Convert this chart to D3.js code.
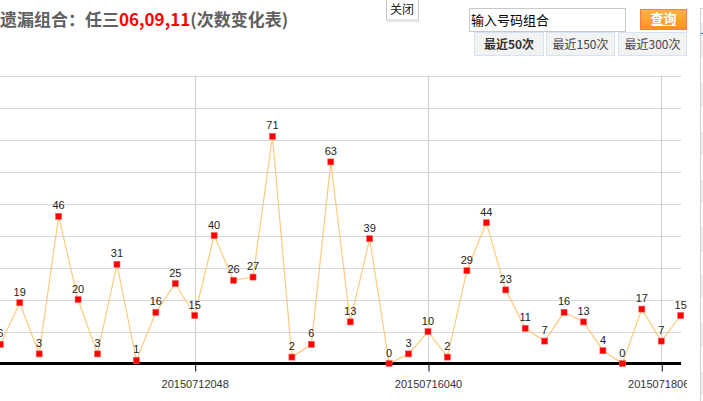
<!DOCTYPE html>
<html>
<head>
<meta charset="utf-8">
<script src="https://cdn.jsdelivr.net/npm/d3@7"></script>
<style>
  body { margin: 0; background: #fff; }
  svg { display: block; font-family: "Liberation Sans", Arial, sans-serif; }
</style>
</head>
<body>
<div id="chart"></div>
<script>
// visible part of the last-50 series (chart is scrolled, left part cut off)
const counts = [6, 19, 3, 46, 20, 3, 31, 1, 16, 25, 15, 40, 26, 27, 71, 2, 6, 63, 13, 39,
  0, 3, 10, 2, 29, 44, 23, 11, 7, 16, 13, 4, 0, 17, 7, 15];
const tickIndex = [10, 22, 34];
const tickLabels = ['20150712048', '20150716040', '20150718066'];
const yTicks = [10, 20, 30, 40, 50, 60, 70, 80, 90];
const tabs = ['最近50次', '最近150次', '最近300次'];

const width = 703, height = 401;
const svg = d3.select('#chart').append('svg')
  .attr('width', width)
  .attr('height', height);

const plotRight = 681;
const x = d3.scaleLinear().domain([0, counts.length - 1]).range([0.3, 680.7]);
const y = d3.scaleLinear().domain([0, 90]).range([363.5, 75.5]);

svg.append('defs').append('clipPath').attr('id', 'plotClip')
  .append('rect').attr('x', -10).attr('y', 0).attr('width', 697).attr('height', height);

const plot = svg.append('g').attr('clip-path', 'url(#plotClip)');

// horizontal grid
plot.selectAll('.hgrid')
  .data(yTicks)
  .enter()
  .append('line')
  .attr('class', 'hgrid')
  .attr('x1', 0)
  .attr('x2', plotRight)
  .attr('y1', d => Math.round(y(d)) + 0.5)
  .attr('y2', d => Math.round(y(d)) + 0.5)
  .attr('stroke', '#d9d9d9')
  .attr('stroke-width', 1);

// vertical grid at ticks
plot.selectAll('.vgrid')
  .data(tickIndex)
  .enter()
  .append('line')
  .attr('class', 'vgrid')
  .attr('x1', d => Math.round(x(d)) + 0.5)
  .attr('x2', d => Math.round(x(d)) + 0.5)
  .attr('y1', y(90))
  .attr('y2', y(0))
  .attr('stroke', '#cfcfcf');

// x axis
const xAxis = d3.axisBottom(x)
  .tickValues(tickIndex)
  .tickFormat((d, i) => tickLabels[i])
  .tickSize(8)
  .tickSizeOuter(0);

const axisG = plot.append('g')
  .attr('transform', `translate(0, ${y(0)})`)
  .call(xAxis);
axisG.select('.domain').remove();
axisG.selectAll('.tick line').attr('stroke', '#000').attr('transform', 'translate(0.5,0)');
axisG.selectAll('.tick text')
  .attr('fill', '#333')
  .attr('font-size', 11)
  .attr('font-family', '"Liberation Sans", Arial, sans-serif')
  .attr('dy', '1.25em');

plot.append('line')
  .attr('x1', 0)
  .attr('x2', plotRight)
  .attr('y1', y(0))
  .attr('y2', y(0))
  .attr('stroke', '#000')
  .attr('stroke-width', 3);

// series line
const line = d3.line()
  .x((d, i) => x(i))
  .y(d => y(d));

plot.append('path')
  .datum(counts)
  .attr('d', line)
  .attr('fill', 'none')
  .attr('stroke', '#ffca7c')
  .attr('stroke-width', 1.2);

plot.selectAll('.marker')
  .data(counts)
  .enter()
  .append('rect')
  .attr('class', 'marker')
  .attr('x', (d, i) => x(i) - 3)
  .attr('y', d => y(d) - 3)
  .attr('width', 6)
  .attr('height', 6)
  .attr('fill', '#ff0000')
  .attr('stroke', '#ff5a5a')
  .attr('stroke-width', 0.6);

plot.selectAll('.valueLabel')
  .data(counts)
  .enter()
  .append('text')
  .attr('class', 'valueLabel')
  .attr('x', (d, i) => x(i))
  .attr('y', d => y(d) - 7)
  .attr('text-anchor', 'middle')
  .attr('font-size', 11)
  .attr('fill', '#222')
  .text(d => d);

// title
const title = svg.append('text')
  .attr('x', 0)
  .attr('y', 26)
  .attr('font-family', '"Noto Sans CJK SC", sans-serif')
  .attr('font-size', 17)
  .attr('font-weight', 'bold')
  .attr('fill', '#606060');
title.append('tspan').text('遗漏组合：任三');
title.append('tspan').attr('fill', '#ff0000').text('06,09,11');
title.append('tspan').text('(次数变化表)');

// close button
svg.append('rect')
  .attr('x', 386.5).attr('y', -2).attr('width', 32).attr('height', 22)
  .attr('fill', '#fff').attr('stroke', '#c8c8c8');
svg.append('line')
  .attr('x1', 387).attr('x2', 419).attr('y1', 21.5).attr('y2', 21.5)
  .attr('stroke', '#e6e6e6');
svg.append('text')
  .attr('x', 402).attr('y', 14)
  .attr('text-anchor', 'middle')
  .attr('font-family', '"Noto Sans CJK SC", sans-serif')
  .attr('font-size', 12)
  .attr('fill', '#222')
  .text('关闭');

// search box
svg.append('rect')
  .attr('x', 469.5).attr('y', 8.5).attr('width', 156).attr('height', 23)
  .attr('fill', '#fff').attr('stroke', '#c8c8c8');
svg.append('text')
  .attr('x', 471).attr('y', 25)
  .attr('font-family', '"Noto Sans CJK SC", sans-serif')
  .attr('font-size', 13)
  .attr('fill', '#000')
  .text('输入号码组合');

const grad = svg.select('defs').append('linearGradient')
  .attr('id', 'btnGrad').attr('x1', 0).attr('x2', 0).attr('y1', 0).attr('y2', 1);
grad.append('stop').attr('offset', '0%').attr('stop-color', '#ffb347');
grad.append('stop').attr('offset', '100%').attr('stop-color', '#ff9222');

svg.append('rect')
  .attr('x', 640.5).attr('y', 9.5).attr('width', 46).attr('height', 20)
  .attr('fill', 'url(#btnGrad)').attr('stroke', '#ff7b4f');
svg.append('line')
  .attr('x1', 652).attr('x2', 676).attr('y1', 25.5).attr('y2', 25.5)
  .attr('stroke', '#fff').attr('stroke-width', 1);
svg.append('line')
  .attr('x1', 651).attr('x2', 677).attr('y1', 27.5).attr('y2', 27.5)
  .attr('stroke', '#f08a3a').attr('stroke-width', 1);
svg.append('text')
  .attr('x', 663.5).attr('y', 23)
  .attr('text-anchor', 'middle')
  .attr('font-family', '"Noto Sans CJK SC", sans-serif')
  .attr('font-size', 13)
  .attr('font-weight', 'bold')
  .attr('fill', '#fff')
  .text('查询');

// range tabs
const tabX = [474, 546, 618];
const tabW = [70, 69, 69];
const tabG = svg.selectAll('.tab')
  .data(tabs)
  .enter()
  .append('g')
  .attr('class', 'tab')
  .attr('transform', (d, i) => `translate(${tabX[i]}, 32)`);
tabG.append('rect')
  .attr('x', 0.5).attr('y', 0.5)
  .attr('width', (d, i) => tabW[i] - 1).attr('height', 23)
  .attr('fill', '#f2f2f2').attr('stroke', '#d4e2f7');
tabG.append('text')
  .attr('x', (d, i) => tabW[i] / 2)
  .attr('y', 17)
  .attr('text-anchor', 'middle')
  .attr('font-family', '"Noto Sans CJK SC", sans-serif')
  .attr('font-size', 12)
  .attr('font-weight', (d, i) => i === 0 ? 'bold' : 'normal')
  .attr('fill', (d, i) => i === 0 ? '#333' : '#444')
  .text(d => d);

// side panel edge on the right
svg.append('line')
  .attr('x1', 700.5).attr('x2', 700.5).attr('y1', 8).attr('y2', height)
  .attr('stroke', '#cfcfcf');
svg.append('line')
  .attr('x1', 700.5).attr('x2', 703).attr('y1', 8.5).attr('y2', 8.5)
  .attr('stroke', '#cfcfcf');
const stripes = [[23, 35], [83, 24], [132, 23], [180, 23], [227, 25], [275, 23], [323, 24], [372, 23]];
svg.selectAll('.stripe')
  .data(stripes)
  .enter()
  .append('rect')
  .attr('x', 701).attr('y', d => d[0]).attr('width', 2).attr('height', d => d[1])
  .attr('fill', '#efefef');
svg.append('line')
  .attr('x1', 701).attr('x2', 703).attr('y1', 33.5).attr('y2', 33.5)
  .attr('stroke', '#1e5fb4');
</script>
</body>
</html>
